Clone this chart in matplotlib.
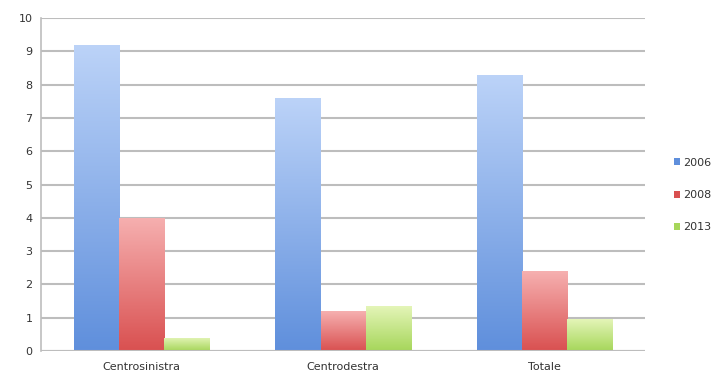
import numpy as np
import matplotlib
matplotlib.use("Agg")
from matplotlib import pyplot as plt
from matplotlib.colors import LinearSegmentedColormap
from matplotlib.patches import Patch

categories = ["Centrosinistra", "Centrodestra", "Totale"]
years = ["2006", "2008", "2013"]
v2006 = [9.2, 7.6, 8.3]
v2008 = [4.0, 1.2, 2.4]
v2013 = [0.4, 1.35, 0.95]

# (top colour, bottom colour) for the gradient fill
grads = [("#bcd3f8", "#5f8fdc"), ("#f6b0b0", "#d95050"), ("#e4f5b8", "#a6d65a")]

fig = plt.figure(figsize=(7.15, 3.78), dpi=100)
ax = fig.add_axes([0.0573, 0.0714, 0.845, 0.881])

x = np.arange(len(categories))
w = 0.224
series = [v2006, v2008, v2013]
for i, vals in enumerate(series):
    cmap = LinearSegmentedColormap.from_list("g%d" % i, [grads[i][1], grads[i][0]])
    bars = ax.bar(x + (i - 1) * w, vals, w, color="none", edgecolor="none", zorder=3)
    for b in bars:
        x0, y0 = b.get_x(), b.get_y()
        h = b.get_height()
        grad = np.linspace(0, 1, 256).reshape(-1, 1)
        im = ax.imshow(grad, cmap=cmap, aspect="auto", origin="lower",
                       extent=[x0, x0 + w, y0, y0 + h], zorder=3)
        im.set_clip_path(b)

ax.set_xlim(-0.5, 2.5)
ax.set_ylim(0, 10)
ax.set_yticks(range(0, 11))
ax.set_xticks(x)
ax.set_xticklabels(categories)
ax.yaxis.grid(True, color="#bdbdbd", linewidth=1.5, zorder=0)
ax.set_axisbelow(True)
for s in ["top", "right", "bottom"]:
    ax.spines[s].set_visible(False)
ax.spines["left"].set_color("#bdbdbd")
ax.spines["left"].set_linewidth(1.2)
ax.tick_params(axis="both", length=0, labelsize=8, colors="#333333", pad=6)
ax.tick_params(axis="x", pad=8)
ax.axhline(0, color="#bdbdbd", linewidth=1.5, zorder=4)

handles = [Patch(facecolor=(grads[i][1]), edgecolor="none") for i in range(3)]
leg = fig.legend(handles, years, loc="center left", bbox_to_anchor=(0.928, 0.484),
                 frameon=False, fontsize=8, handlelength=0.6, handleheight=0.6,
                 handletextpad=0.3, labelspacing=2.0)
for t in leg.get_texts():
    t.set_color("#333333")

fig.savefig("out.png", dpi=100)
